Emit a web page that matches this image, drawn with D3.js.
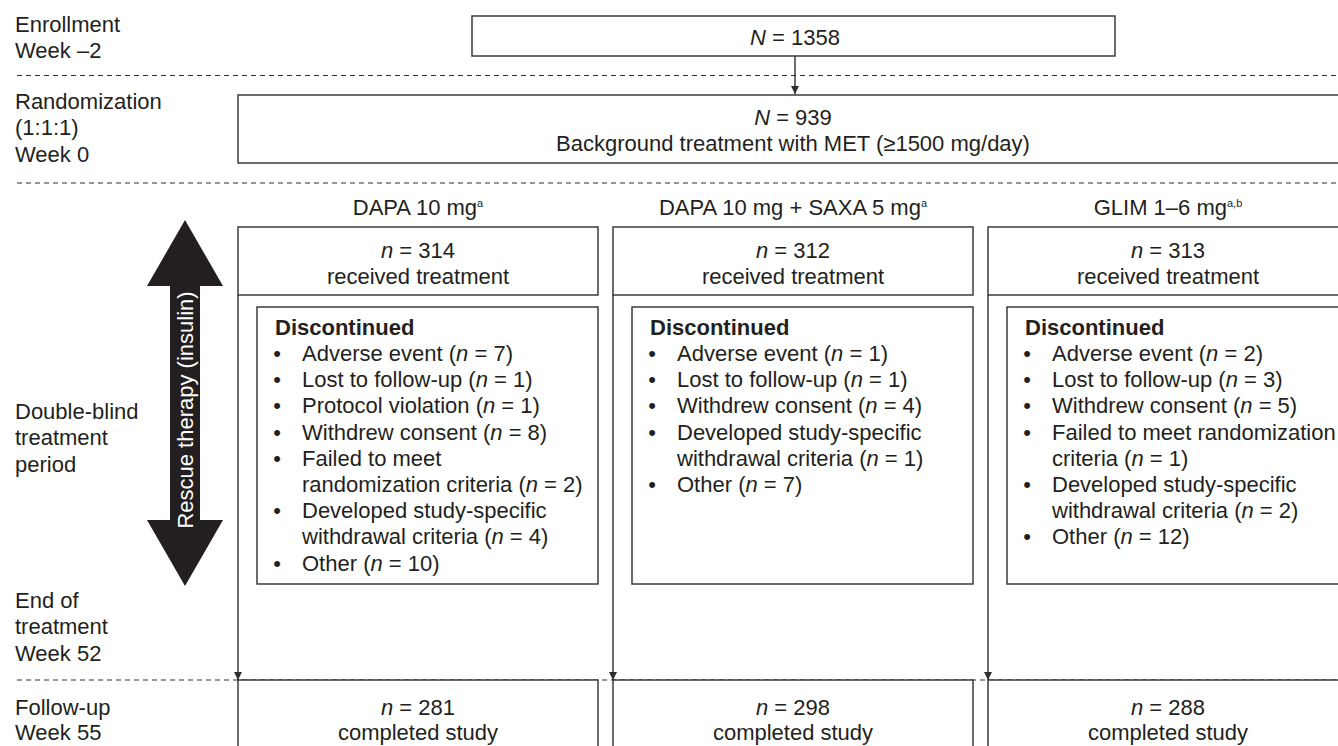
<!DOCTYPE html>
<html>
<head>
<meta charset="utf-8">
<script src="https://cdn.jsdelivr.net/npm/d3@7"></script>
<style>
  html, body { margin: 0; padding: 0; background: #fff; }
  svg { display: block; }
  text { font-family: "Liberation Sans", Arial, Helvetica, sans-serif; fill: #231f20; }
</style>
</head>
<body>
<svg id="chart" width="1338" height="746"></svg>
<script>
// ---------------- DATA ----------------
const stageLabels = [
  ["Enrollment", "Week \u20132"],
  ["Randomization", "(1:1:1)", "Week 0"],
  ["Double-blind", "treatment", "period"],
  ["End of", "treatment", "Week 52"],
  ["Follow-up", "Week 55"]
];
const enrolledN = 1358;
const randomizedN = 939;
const backgroundText = "Background treatment with MET (\u22651500 mg/day)";
const arms = ["DAPA 10 mg", "DAPA 10 mg + SAXA 5 mg", "GLIM 1\u20136 mg"];
const armSuperscripts = ["a", "a", "a,b"];
const receivedN = [314, 312, 313];
const completedN = [281, 298, 288];
const discontinuedReasons = [
  ["Adverse event", "Lost to follow-up", "Protocol violation", "Withdrew consent",
   "Failed to meet\nrandomization criteria", "Developed study-specific\nwithdrawal criteria", "Other"],
  ["Adverse event", "Lost to follow-up", "Withdrew consent",
   "Developed study-specific\nwithdrawal criteria", "Other"],
  ["Adverse event", "Lost to follow-up", "Withdrew consent",
   "Failed to meet randomization\ncriteria", "Developed study-specific\nwithdrawal criteria", "Other"]
];
const discontinuedCounts = [
  [7, 1, 1, 8, 2, 4, 10],
  [1, 1, 4, 1, 7],
  [2, 3, 5, 1, 2, 12]
];
const rescueLabel = "Rescue therapy (insulin)";

// ---------------- LAYOUT ----------------
const W = 1338, H = 746;
const FS = 22;            // font size
const LH = 26.2;          // line height in lists
const BL = 7.8;           // center -> baseline offset
const lineCol = "#2e2e2e";
const svg = d3.select("#chart");

const x = d3.scaleBand().domain(arms).range([238, 1348]).paddingInner(0.04).paddingOuter(0);
const bw = x.bandwidth();

const stageCenterY = d3.scaleOrdinal().domain(d3.range(stageLabels.length))
  .range([37, 127.5, 437.5, 626.5, 719.5]);

function richText(sel, str) {
  const parts = str.split(/(\b[nN](?= =))/);
  parts.forEach(p => {
    if (p === "") return;
    const t = sel.append("tspan").text(p);
    if (p === "n" || p === "N") t.attr("font-style", "italic");
  });
}

// ---- dashed separators ----
const dashY = [75.5, 183, 680];
svg.append("g").selectAll("line").data(dashY).join("line")
  .attr("x1", 17).attr("x2", W).attr("y1", d => d).attr("y2", d => d)
  .attr("stroke", lineCol).attr("stroke-width", 1.2).attr("stroke-dasharray", "5,4");

// ---- stage labels ----
const stageG = svg.append("g");
stageLabels.forEach((lines, i) => {
  const cy = stageCenterY(i);
  const lh = i === 4 ? 25 : 26.5;
  const y0 = cy - (lines.length - 1) * lh / 2;
  lines.forEach((ln, j) => {
    stageG.append("text").attr("x", 15).attr("y", y0 + j * lh + BL)
      .attr("font-size", FS).text(ln);
  });
});

// ---- arrow marker ----
const defs = svg.append("defs");
defs.append("marker").attr("id", "ah").attr("viewBox", "0 0 10 10")
  .attr("refX", 10).attr("refY", 5).attr("markerWidth", 8).attr("markerHeight", 8)
  .attr("markerUnits", "userSpaceOnUse").attr("orient", "auto")
  .append("path").attr("d", "M0,0 L10,5 L0,10 Z").attr("fill", lineCol);

// ---- enrollment box ----
svg.append("rect").attr("x", 472).attr("y", 16).attr("width", 643).attr("height", 40)
  .attr("fill", "none").attr("stroke", lineCol).attr("stroke-width", 1.4);
richText(svg.append("text").attr("x", 795).attr("y", 37 + BL).attr("text-anchor", "middle")
  .attr("font-size", FS), "N = " + enrolledN);
svg.append("line").attr("x1", 795).attr("x2", 795).attr("y1", 56).attr("y2", 94)
  .attr("stroke", lineCol).attr("stroke-width", 1.4).attr("marker-end", "url(#ah)");

// ---- randomization box ----
svg.append("rect").attr("x", 238).attr("y", 95).attr("width", 1110).attr("height", 68)
  .attr("fill", "none").attr("stroke", lineCol).attr("stroke-width", 1.4);
richText(svg.append("text").attr("x", 793).attr("y", 117 + BL).attr("text-anchor", "middle")
  .attr("font-size", FS), "N = " + randomizedN);
svg.append("text").attr("x", 793).attr("y", 143 + BL).attr("text-anchor", "middle")
  .attr("font-size", FS).text(backgroundText);

// ---- arm columns ----
arms.forEach((arm, i) => {
  const x0 = x(arm), cx = x0 + bw / 2;
  const g = svg.append("g");
  const ht = g.append("text").attr("x", cx).attr("y", 207 + BL).attr("text-anchor", "middle")
    .attr("font-size", FS);
  ht.append("tspan").text(arm);
  ht.append("tspan").attr("font-size", 11).attr("dy", -8).text(armSuperscripts[i]);
  g.append("rect").attr("x", x0).attr("y", 227).attr("width", bw).attr("height", 68)
    .attr("fill", "none").attr("stroke", lineCol).attr("stroke-width", 1.4);
  richText(g.append("text").attr("x", cx).attr("y", 250 + BL).attr("text-anchor", "middle")
    .attr("font-size", FS), "n = " + receivedN[i]);
  g.append("text").attr("x", cx).attr("y", 276 + BL).attr("text-anchor", "middle")
    .attr("font-size", FS).text("received treatment");
  g.append("line").attr("x1", x0).attr("x2", x0).attr("y1", 295).attr("y2", 680)
    .attr("stroke", lineCol).attr("stroke-width", 1.4).attr("marker-end", "url(#ah)");
  const ix = x0 + 19;
  g.append("rect").attr("x", ix).attr("y", 307).attr("width", bw - 19).attr("height", 277)
    .attr("fill", "none").attr("stroke", lineCol).attr("stroke-width", 1.4);
  g.append("text").attr("x", ix + 18).attr("y", 327 + BL).attr("font-size", FS)
    .attr("font-weight", "bold").text("Discontinued");
  let line = 1;
  discontinuedReasons[i].forEach((reason, k) => {
    const rl = reason.split("\n");
    g.append("text").attr("x", ix + 20).attr("y", 327 + line * LH + BL)
      .attr("text-anchor", "middle").attr("font-size", FS).text("\u2022");
    rl.forEach((seg, s) => {
      const t = g.append("text").attr("x", ix + 45).attr("y", 327 + (line + s) * LH + BL)
        .attr("font-size", FS);
      const str = s === rl.length - 1 ? seg + " (n = " + discontinuedCounts[i][k] + ")" : seg;
      richText(t, str);
    });
    line += rl.length;
  });
  g.append("rect").attr("x", x0).attr("y", 680).attr("width", bw).attr("height", 90)
    .attr("fill", "#fff").attr("stroke", lineCol).attr("stroke-width", 1.4);
  richText(g.append("text").attr("x", cx).attr("y", 707 + BL).attr("text-anchor", "middle")
    .attr("font-size", FS), "n = " + completedN[i]);
  g.append("text").attr("x", cx).attr("y", 732 + BL).attr("text-anchor", "middle")
    .attr("font-size", FS).text("completed study");
});

// ---- rescue therapy double arrow ----
const ax = 185, aTop = 220, hb1 = 286, hb2 = 520, aBot = 586, hw = 38, sw = 15;
const pts = [[ax, aTop], [ax + hw, hb1], [ax + sw, hb1], [ax + sw, hb2], [ax + hw, hb2], [ax, aBot],
             [ax - hw, hb2], [ax - sw, hb2], [ax - sw, hb1], [ax - hw, hb1]];
svg.append("path").attr("d", d3.line()(pts) + "Z").attr("fill", "#231f20");
svg.append("text").attr("transform", `translate(${ax + 7.8},${410}) rotate(-90)`)
  .attr("text-anchor", "middle").attr("font-size", FS).style("fill", "#fff").text(rescueLabel);
</script>
</body>
</html>
